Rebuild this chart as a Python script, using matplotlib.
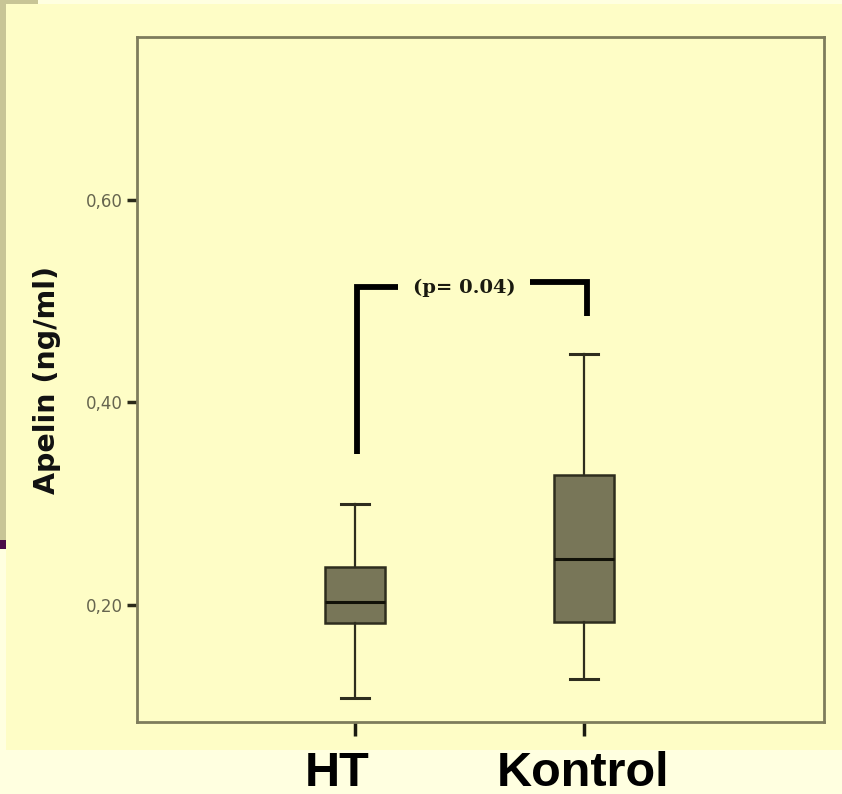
# Apelin boxplot, HT vs Kontrol
import matplotlib
matplotlib.use("Agg")
import matplotlib.pyplot as plt
from matplotlib.patches import Rectangle

# data
groups = ["HT", "Kontrol"]
whis_lo = [0.108, 0.127]
q1 = [0.182, 0.183]
medians = [0.203, 0.2455]
q3 = [0.2375, 0.328]
whis_hi = [0.300, 0.4475]
yticks = [0.20, 0.40, 0.60]
ytick_labels = ["0,20", "0,40", "0,60"]
p_text = "(p= 0.04)"

slide_bg = "#ffffe0"
img_bg = "#fefdc6"
box_fill = "#787658"
frame = "#7e7c5c"

fig = plt.figure(figsize=(8.42, 7.94), dpi=100)
fig.patch.set_facecolor(slide_bg)

W, H = 842.0, 794.0
def fr(x0, y0, x1, y1, c):
    # rectangle in pixel coords (top-left origin) -> figure coords
    fig.patches.append(Rectangle((x0 / W, 1 - y1 / H), (x1 - x0) / W, (y1 - y0) / H,
                                 transform=fig.transFigure, facecolor=c,
                                 edgecolor="none", zorder=-10))

fr(6, 4, 842, 750, img_bg)       # pasted chart image
fr(0, 0, 38, 4, "#c8c596")       # tan strip top
fr(0, 0, 6, 540, "#c8c596")      # tan strip left
fr(0, 540, 6, 549, "#4a0b48")    # purple bar

ax = fig.add_axes([137 / W, 1 - 722 / H, 687 / W, 685 / H])
ax.set_facecolor(img_bg)

pos = [1, 2]
stats = []
for i, g in enumerate(groups):
    stats.append(dict(label=g, whislo=whis_lo[i], q1=q1[i], med=medians[i],
                      q3=q3[i], whishi=whis_hi[i], fliers=[]))

ax.bxp(stats, positions=pos, widths=0.266, capwidths=0.122, patch_artist=True,
       showfliers=False,
       boxprops=dict(facecolor=box_fill, edgecolor="#2e2d1e", linewidth=1.8),
       medianprops=dict(color="#111108", linewidth=2.2),
       whiskerprops=dict(color="#2e2d1e", linewidth=1.6),
       capprops=dict(color="#2e2d1e", linewidth=2.2))

# significance bracket
ax.plot([1.009, 1.009, 1.188], [0.349, 0.514, 0.514], color="black", lw=4.2,
        solid_joinstyle="miter", solid_capstyle="butt")
ax.plot([1.764, 2.013, 2.013], [0.519, 0.519, 0.485], color="black", lw=4.2,
        solid_joinstyle="miter", solid_capstyle="butt")
ax.text(1.478, 0.513, p_text, ha="center", va="center", fontsize=14,
        fontweight="bold", family="DejaVu Serif", color="#1a1a10")

ax.set_xlim(0.048, 3.048)
ax.set_ylim(0.0844, 0.761)

ax.set_yticks(yticks)
ax.set_yticklabels(ytick_labels, fontsize=12, color="#66654f")
ax.set_xticks(pos)
ax.set_xticklabels([])
ax.tick_params(axis="y", direction="out", length=7, width=2.5, color="#2a2a1a", pad=3)
ax.tick_params(axis="x", direction="out", length=10, width=2.5, color="#1a1a10")

for s in ax.spines.values():
    s.set_color(frame)
    s.set_linewidth(2)

ax.set_ylabel("Apelin (ng/ml)", fontsize=20.5, fontweight="bold", family="DejaVu Sans",
              color="#111111", va="center")
ax.yaxis.set_label_coords(-0.131, 0.5)

# group names on the slide below the image
fig.text(337 / W, 1 - 773 / H, groups[0], ha="center", va="center", fontsize=35,
         fontweight="bold", family="Liberation Sans")
fig.text(583 / W, 1 - 773 / H, groups[1], ha="center", va="center", fontsize=35,
         fontweight="bold", family="Liberation Sans")

plt.savefig("out.png", dpi=100, facecolor=fig.get_facecolor())
